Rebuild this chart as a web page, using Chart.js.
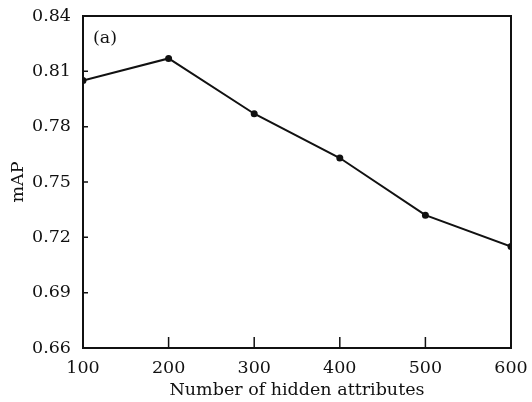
<!DOCTYPE html>
<html>
<head>
<meta charset="utf-8">
<script src="https://cdn.jsdelivr.net/npm/chart.js@4.4.0/dist/chart.umd.min.js"></script>
<style>
  html, body { margin: 0; padding: 0; background: #fff; }
  #wrap { width: 532px; height: 402px; }
</style>
</head>
<body>
<div id="wrap"><canvas id="mapChart" width="532" height="402"></canvas></div>
<script>
// data
const hiddenAttrs = [100, 200, 300, 400, 500, 600];
const mapValues = [0.805, 0.817, 0.787, 0.763, 0.732, 0.715];
const yTicks = [0.66, 0.69, 0.72, 0.75, 0.78, 0.81, 0.84];
const xTicks = [100, 200, 300, 400, 500, 600];

const INK = '#111111';
const FONT = 'DejaVu Serif';
const FSIZE = 17.5;

// frame + inward tick marks, as in the original figure
const framePlugin = {
    id: 'frame',
    afterDraw(chart) {
        const { ctx, chartArea: a, scales } = chart;
        ctx.save();
        ctx.strokeStyle = INK;
        ctx.lineWidth = 2;
        ctx.strokeRect(a.left, a.top, a.right - a.left, a.bottom - a.top);
        ctx.lineWidth = 1.5;
        ctx.beginPath();
        xTicks.slice(1, -1).forEach(v => {
            const x = scales.x.getPixelForValue(v);
            ctx.moveTo(x, a.bottom);
            ctx.lineTo(x, a.bottom - 11);
        });
        yTicks.slice(1, -1).forEach(v => {
            const y = scales.y.getPixelForValue(v);
            ctx.moveTo(a.left, y);
            ctx.lineTo(a.left + 5, y);
        });
        ctx.stroke();
        // panel tag
        ctx.fillStyle = INK;
        ctx.font = FSIZE + 'px "' + FONT + '"';
        ctx.textBaseline = 'middle';
        ctx.fillText('(a)', a.left + 10, a.top + 22);
        ctx.restore();
    }
};

new Chart(document.getElementById('mapChart'), {
    type: 'line',
    data: {
        datasets: [{
            data: hiddenAttrs.map((x, i) => ({ x: x, y: mapValues[i] })),
            borderColor: INK,
            backgroundColor: INK,
            borderWidth: 2,
            pointRadius: 2.5,
            tension: 0,
            fill: false
        }]
    },
    options: {
        responsive: false,
        animation: false,
        layout: { padding: { left: 0, right: 21, top: 16, bottom: 0 } },
        plugins: { legend: { display: false }, tooltip: { enabled: false } },
        scales: {
            x: {
                type: 'linear',
                min: 100,
                max: 600,
                afterBuildTicks: s => { s.ticks = xTicks.map(v => ({ value: v })); },
                afterFit: s => { s.height = 54; },
                grid: { display: false },
                border: { display: false },
                ticks: { color: INK, font: { family: FONT, size: FSIZE }, padding: 2, maxRotation: 0 },
                title: { display: true, text: 'Number of hidden attributes', color: INK, font: { family: FONT, size: FSIZE }, padding: { top: 0, bottom: 1 } }
            },
            y: {
                type: 'linear',
                min: 0.66,
                max: 0.84,
                afterBuildTicks: s => { s.ticks = yTicks.map(v => ({ value: v })); },
                afterFit: s => { s.width = 83; },
                grid: { display: false },
                border: { display: false },
                ticks: { color: INK, font: { family: FONT, size: FSIZE }, padding: 4, callback: v => v.toFixed(2) },
                title: { display: true, text: 'mAP', color: INK, font: { family: FONT, size: FSIZE }, padding: { top: 8, bottom: 0 } }
            }
        }
    },
    plugins: [framePlugin]
});
</script>
</body>
</html>
